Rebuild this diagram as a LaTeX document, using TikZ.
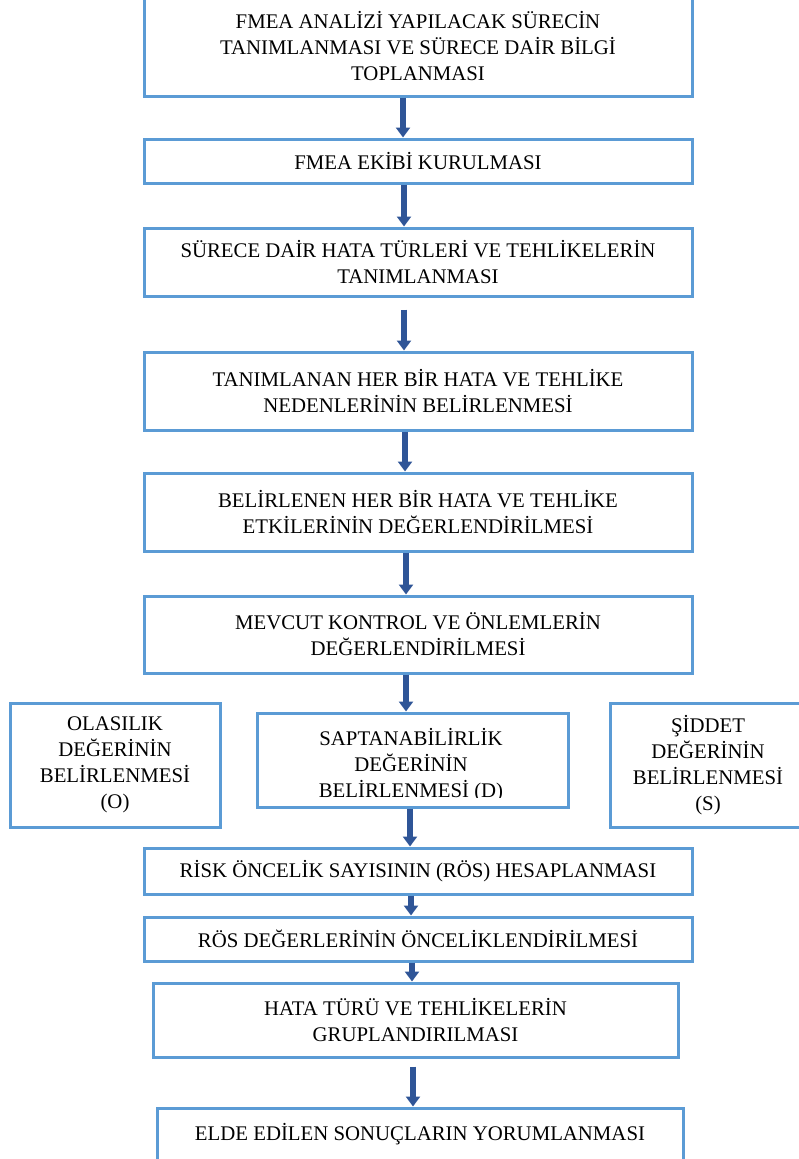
\documentclass[tikz,border=0pt]{standalone}
\usepackage{fontspec}
\setmainfont{Liberation Serif}
\usetikzlibrary{arrows.meta}
\definecolor{boxblue}{RGB}{91,155,213}
\definecolor{arrblue}{RGB}{47,85,151}
\tikzset{
  stepbox/.style={draw=boxblue, line width=3pt, align=center, inner sep=0pt,
    font=\fontsize{20.8}{26}\selectfont, text=black},
  boxtext/.style={align=center, inner sep=0pt, font=\fontsize{20.8}{26}\selectfont, text=black},
  arr/.style={draw=arrblue, line width=6pt, -{Triangle[width=14pt,length=10pt]}, arrblue}
}
\begin{document}
\begin{tikzpicture}[x=1pt,y=-1pt]
\useasboundingbox (0,0) rectangle (798,1159);
% boxes
\node[stepbox, minimum width=548pt, minimum height=100pt] (b1) at (418,46)
  {FMEA ANALİZİ YAPILACAK SÜRECİN\\TANIMLANMASI VE SÜRECE DAİR BİLGİ\\TOPLANMASI};
\node[stepbox, minimum width=548pt, minimum height=44pt] (b2) at (418,161)
  {FMEA EKİBİ KURULMASI};
\node[stepbox, minimum width=548pt, minimum height=68pt] (b3) at (418,262)
  {SÜRECE DAİR HATA TÜRLERİ VE TEHLİKELERİN\\TANIMLANMASI};
\node[stepbox, minimum width=548pt, minimum height=78pt] (b4) at (418,391)
  {TANIMLANAN HER BİR HATA VE TEHLİKE\\NEDENLERİNİN BELİRLENMESİ};
\node[stepbox, minimum width=548pt, minimum height=78pt] (b5) at (418,512)
  {BELİRLENEN HER BİR HATA VE TEHLİKE\\ETKİLERİNİN DEĞERLENDİRİLMESİ};
\node[stepbox, minimum width=548pt, minimum height=77pt] (b6) at (418,634.5)
  {MEVCUT KONTROL VE ÖNLEMLERİN\\DEĞERLENDİRİLMESİ};
\node[stepbox, minimum width=210pt, minimum height=124pt] (bo) at (115,765)
  {OLASILIK\\DEĞERİNİN\\BELİRLENMESİ\\(O)};
\node[stepbox, minimum width=311pt, minimum height=94pt] (bd) at (412.5,760) {};
\begin{scope}
  \clip (259,715) rectangle (566,797);
  \node[boxtext] (dtxt) at (411,765) {SAPTANABİLİRLİK\\DEĞERİNİN\\BELİRLENMESİ (D)};
\end{scope}
\node[stepbox, minimum width=196pt, minimum height=124pt] (bs) at (708,765)
  {ŞİDDET\\DEĞERİNİN\\BELİRLENMESİ\\(S)};
\node[stepbox, minimum width=548pt, minimum height=46pt] (br) at (418,871)
  {RİSK ÖNCELİK SAYISININ (RÖS) HESAPLANMASI};
\node[stepbox, minimum width=548pt, minimum height=44pt] (bro) at (418,939)
  {RÖS DEĞERLERİNİN ÖNCELİKLENDİRİLMESİ};
\node[stepbox, minimum width=525pt, minimum height=74pt] (bh) at (415.5,1020)
  {HATA TÜRÜ VE TEHLİKELERİN\\GRUPLANDIRILMASI};
\node[stepbox, minimum width=526pt, minimum height=52pt] (be) at (420,1134)
  {ELDE EDİLEN SONUÇLARIN YORUMLANMASI};
% arrow x positions
\coordinate (x1) at (403,0);
\coordinate (x2) at (404,0);
\coordinate (x3) at (404,0);
\coordinate (x4) at (405,0);
\coordinate (x5) at (406,0);
\coordinate (x6) at (406,0);
\coordinate (x7) at (410,0);
\coordinate (x8) at (411,0);
\coordinate (x9) at (412,0);
\coordinate (x10) at (413,0);
% arrows
\draw[arr] (b1.south -| x1) -- (b2.north -| x1);
\draw[arr] (b2.south -| x2) -- (b3.north -| x2);
\draw[arr] ([yshift=-12pt]b3.south -| x3) -- (b4.north -| x3);
\draw[arr] (b4.south -| x4) -- (b5.north -| x4);
\draw[arr] (b5.south -| x5) -- (b6.north -| x5);
\draw[arr] (b6.south -| x6) -- (bd.north -| x6);
\draw[arr] (bd.south -| x7) -- (br.north -| x7);
\draw[arr] (br.south -| x8) -- (bro.north -| x8);
\draw[arr] (bro.south -| x9) -- (bh.north -| x9);
\draw[arr] ([yshift=-8pt]bh.south -| x10) -- (be.north -| x10);
\end{tikzpicture}
\end{document}
